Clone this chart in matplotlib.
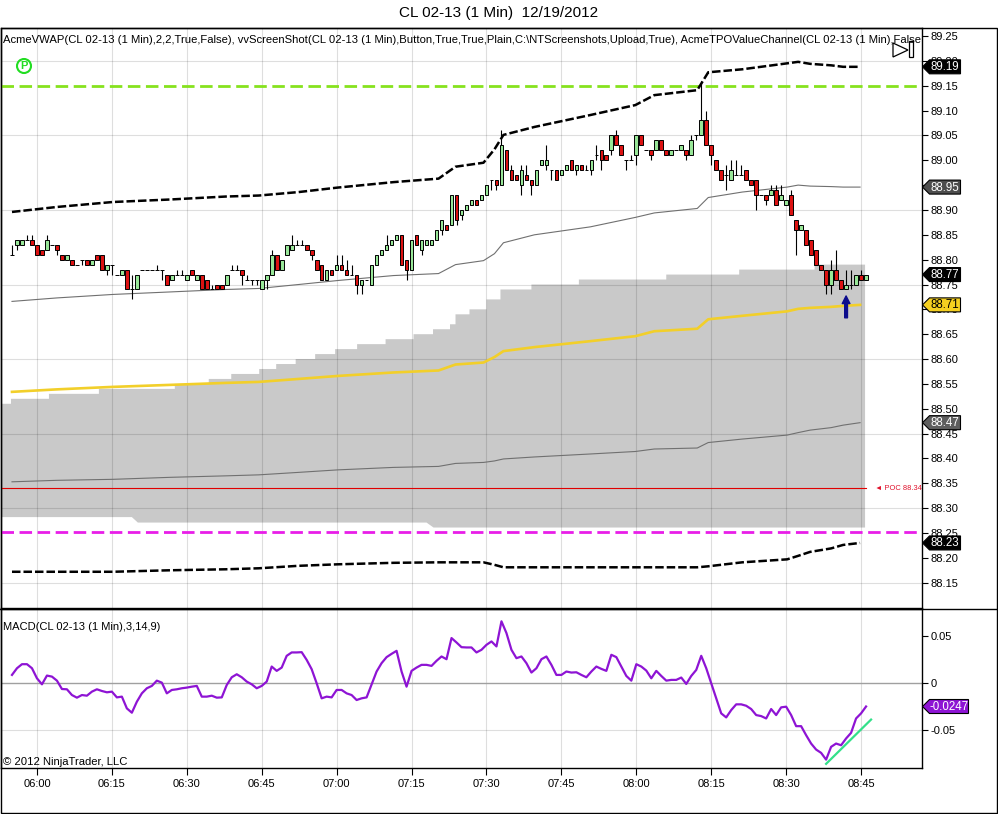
import matplotlib
matplotlib.use('Agg')
import matplotlib.pyplot as plt
from matplotlib.patches import Polygon, Rectangle, Circle
import numpy as np

plt.rcParams['font.family'] = ['Liberation Sans', 'DejaVu Sans']

# ---------------- data (minutes after 06:00) ----------------
minutes = list(range(-5, 167))
opens = [88.81, 88.83, 88.83, 88.84, 88.84, 88.83, 88.82, 88.82, 88.83, 88.83,
         88.81, 88.80, 88.80, 88.79, 88.80, 88.80, 88.79, 88.81, 88.81, 88.78,
         88.79, 88.77, 88.77, 88.78, 88.74, 88.74, 88.78, 88.78, 88.78, 88.78,
         88.78, 88.77, 88.76, 88.77, 88.77, 88.76, 88.78, 88.76, 88.77, 88.76,
         88.74, 88.75, 88.75, 88.75, 88.78, 88.78, 88.78, 88.76, 88.76, 88.76,
         88.74, 88.76, 88.77, 88.81, 88.78, 88.81, 88.82, 88.83, 88.83, 88.83,
         88.82, 88.80, 88.79, 88.76, 88.78, 88.78, 88.79, 88.78, 88.77, 88.77,
         88.75, 88.76, 88.75, 88.79, 88.81, 88.82, 88.83, 88.84, 88.85, 88.80,
         88.78, 88.85, 88.82, 88.83, 88.83, 88.84, 88.86, 88.87, 88.87, 88.93,
         88.89, 88.90, 88.91, 88.92, 88.92, 88.93, 88.96, 88.96, 88.95, 89.02,
         88.98, 88.97, 88.95, 88.97, 88.96, 88.95, 88.99, 88.99, 88.98, 88.98,
         88.97, 88.98, 89.00, 88.98, 88.99, 88.98, 88.98, 89.01, 89.02, 89.01,
         89.02, 89.05, 89.03, 89.00, 89.00, 89.01, 89.05, 89.02, 89.02, 89.02,
         89.04, 89.02, 89.01, 89.02, 89.02, 89.02, 89.01, 89.05, 89.05, 89.08,
         89.03, 89.00, 88.98, 88.97, 88.96, 88.97, 88.97, 88.98, 88.96, 88.96,
         88.93, 88.93, 88.93, 88.94, 88.92, 88.91, 88.93, 88.88, 88.86, 88.86,
         88.84, 88.82, 88.79, 88.78, 88.75, 88.78, 88.76, 88.74, 88.75, 88.75,
         88.77, 88.76]
highs = [88.83, 88.84, 88.84, 88.85, 88.85, 88.83, 88.82, 88.85, 88.83, 88.83,
         88.81, 88.81, 88.80, 88.79, 88.80, 88.80, 88.80, 88.81, 88.81, 88.79,
         88.79, 88.77, 88.78, 88.78, 88.77, 88.77, 88.78, 88.78, 88.78, 88.79,
         88.78, 88.77, 88.77, 88.78, 88.78, 88.77, 88.78, 88.77, 88.77, 88.76,
         88.75, 88.75, 88.75, 88.77, 88.79, 88.79, 88.78, 88.77, 88.76, 88.76,
         88.76, 88.77, 88.82, 88.81, 88.80, 88.83, 88.85, 88.84, 88.84, 88.83,
         88.82, 88.80, 88.79, 88.78, 88.78, 88.81, 88.81, 88.80, 88.79, 88.77,
         88.76, 88.76, 88.79, 88.81, 88.82, 88.85, 88.84, 88.85, 88.85, 88.80,
         88.84, 88.85, 88.84, 88.84, 88.84, 88.86, 88.88, 88.87, 88.93, 88.93,
         88.90, 88.91, 88.92, 88.92, 88.93, 88.95, 88.96, 88.96, 89.06, 89.02,
         88.99, 88.97, 88.99, 88.99, 88.96, 88.98, 89.00, 89.03, 88.98, 88.98,
         88.98, 88.99, 89.00, 88.99, 88.99, 88.99, 89.00, 89.03, 89.02, 89.01,
         89.05, 89.06, 89.03, 89.00, 89.01, 89.05, 89.05, 89.02, 89.02, 89.04,
         89.04, 89.02, 89.02, 89.02, 89.03, 89.02, 89.05, 89.05, 89.16, 89.10,
         89.03, 89.00, 88.98, 88.99, 89.00, 89.00, 88.99, 88.98, 88.96, 88.96,
         88.93, 88.93, 88.95, 88.95, 88.95, 88.92, 88.94, 88.88, 88.87, 88.86,
         88.84, 88.82, 88.79, 88.78, 88.80, 88.82, 88.76, 88.78, 88.78, 88.77,
         88.78, 88.77]
lows = [88.81, 88.82, 88.83, 88.84, 88.83, 88.81, 88.81, 88.82, 88.83, 88.81,
        88.80, 88.80, 88.79, 88.79, 88.79, 88.79, 88.79, 88.80, 88.78, 88.77,
        88.77, 88.77, 88.77, 88.74, 88.72, 88.74, 88.78, 88.78, 88.78, 88.78,
        88.76, 88.75, 88.76, 88.77, 88.77, 88.76, 88.77, 88.76, 88.74, 88.74,
        88.74, 88.74, 88.74, 88.75, 88.78, 88.78, 88.75, 88.76, 88.75, 88.75,
        88.74, 88.74, 88.77, 88.78, 88.78, 88.81, 88.82, 88.83, 88.83, 88.82,
        88.80, 88.78, 88.76, 88.76, 88.77, 88.78, 88.78, 88.77, 88.77, 88.73,
        88.73, 88.76, 88.75, 88.79, 88.81, 88.82, 88.83, 88.84, 88.79, 88.76,
        88.78, 88.83, 88.81, 88.83, 88.83, 88.84, 88.85, 88.86, 88.87, 88.87,
        88.88, 88.90, 88.91, 88.91, 88.92, 88.93, 88.94, 88.94, 88.95, 88.98,
        88.96, 88.96, 88.93, 88.96, 88.93, 88.95, 88.99, 88.98, 88.96, 88.96,
        88.97, 88.98, 88.98, 88.97, 88.98, 88.98, 88.97, 89.00, 88.98, 89.00,
        89.01, 89.03, 89.01, 88.98, 89.00, 88.99, 89.03, 89.02, 89.00, 89.02,
        89.02, 89.01, 89.01, 89.02, 89.02, 89.00, 89.01, 89.04, 89.05, 89.03,
        88.99, 88.98, 88.96, 88.94, 88.96, 88.97, 88.97, 88.96, 88.95, 88.90,
        88.93, 88.91, 88.93, 88.91, 88.92, 88.91, 88.89, 88.81, 88.86, 88.83,
        88.81, 88.79, 88.78, 88.73, 88.73, 88.76, 88.74, 88.74, 88.74, 88.75,
        88.76, 88.76]
closes = [88.81, 88.84, 88.84, 88.84, 88.83, 88.81, 88.81, 88.84, 88.83, 88.82,
          88.80, 88.81, 88.79, 88.79, 88.80, 88.79, 88.80, 88.80, 88.78, 88.79,
          88.79, 88.77, 88.78, 88.74, 88.74, 88.77, 88.78, 88.78, 88.78, 88.78,
          88.78, 88.75, 88.77, 88.77, 88.77, 88.77, 88.77, 88.77, 88.74, 88.74,
          88.74, 88.74, 88.74, 88.77, 88.78, 88.78, 88.77, 88.76, 88.76, 88.76,
          88.76, 88.77, 88.81, 88.78, 88.80, 88.83, 88.83, 88.83, 88.83, 88.82,
          88.81, 88.78, 88.76, 88.78, 88.77, 88.79, 88.78, 88.77, 88.77, 88.75,
          88.76, 88.76, 88.79, 88.81, 88.82, 88.83, 88.84, 88.85, 88.79, 88.78,
          88.84, 88.83, 88.84, 88.84, 88.84, 88.86, 88.88, 88.86, 88.93, 88.88,
          88.90, 88.91, 88.92, 88.91, 88.93, 88.95, 88.96, 88.95, 89.03, 88.98,
          88.96, 88.96, 88.98, 88.96, 88.95, 88.98, 89.00, 89.00, 88.98, 88.96,
          88.98, 88.99, 88.98, 88.99, 88.98, 88.98, 89.00, 89.01, 89.00, 89.00,
          89.05, 89.03, 89.01, 89.00, 89.00, 89.05, 89.03, 89.02, 89.01, 89.04,
          89.02, 89.01, 89.02, 89.02, 89.03, 89.01, 89.04, 89.05, 89.08, 89.03,
          89.01, 88.98, 88.96, 88.97, 88.98, 88.97, 88.97, 88.96, 88.95, 88.93,
          88.93, 88.92, 88.94, 88.91, 88.93, 88.92, 88.89, 88.86, 88.87, 88.83,
          88.81, 88.79, 88.78, 88.75, 88.78, 88.76, 88.74, 88.75, 88.75, 88.77,
          88.76, 88.77]

# VWAP and bands (knots in minutes)
band_min = [-5, 4, 15.2, 26.6, 37.8, 44.4, 52.4, 60.2, 71.4, 80.4, 83.8, 89.4, 91.6,
            93.4, 99.6, 110.8, 119.8, 123.6, 132.2, 134.4, 141.2, 150.2, 152.4,
            154.8, 159, 161.4, 164.8]
vwap = [88.534, 88.539, 88.544, 88.548, 88.552, 88.554, 88.560, 88.566, 88.573,
        88.577, 88.589, 88.593, 88.604, 88.616, 88.624, 88.636, 88.646, 88.656,
        88.661, 88.680, 88.687, 88.696, 88.701, 88.703, 88.705, 88.707, 88.709]
upper2 = [88.896, 88.906, 88.916, 88.921, 88.927, 88.929, 88.936, 88.945, 88.956,
          88.963, 88.987, 88.995, 89.022, 89.051, 89.067, 89.091, 89.111, 89.131,
          89.141, 89.177, 89.183, 89.195, 89.198, 89.194, 89.191, 89.188, 89.188]
lower2 = [88.172, 88.172, 88.172, 88.175, 88.177, 88.179, 88.184, 88.187, 88.190,
          88.191, 88.191, 88.191, 88.186, 88.181, 88.181, 88.181, 88.181, 88.181,
          88.181, 88.183, 88.191, 88.197, 88.204, 88.212, 88.219, 88.226, 88.230]
upper1 = [88.716, 88.723, 88.730, 88.735, 88.740, 88.742, 88.750, 88.758, 88.768,
          88.772, 88.790, 88.798, 88.812, 88.834, 88.850, 88.866, 88.885, 88.894,
          88.903, 88.925, 88.936, 88.946, 88.950, 88.948, 88.947, 88.946, 88.946]
lower1 = [88.353, 88.356, 88.358, 88.362, 88.365, 88.367, 88.372, 88.377, 88.382,
          88.384, 88.390, 88.392, 88.395, 88.399, 88.403, 88.409, 88.414, 88.419,
          88.421, 88.432, 88.439, 88.447, 88.452, 88.457, 88.462, 88.467, 88.472]

# TPO value channel
tpo_top_min = [-7.2, -5.2, 2.4, 12.4, 27.6, 34.4, 38.9, 44.5, 47.9, 51.8, 55.7, 59.7,
               64.1, 69.8, 75.4, 79.3, 82.7, 83.8, 86.6, 90, 92.8, 99, 108.5, 126,
               140.6, 155.7]
tpo_top = [88.51, 88.52, 88.53, 88.54, 88.55, 88.56, 88.57, 88.58, 88.59, 88.60,
           88.61, 88.62, 88.63, 88.64, 88.65, 88.66, 88.67, 88.69, 88.70, 88.72,
           88.74, 88.75, 88.76, 88.77, 88.78, 88.79]
tpo_end = 165.8
tpo_bot_min = [-7.2, 19.0, 20.2, 78.0, 79.4, 165.8]
tpo_bot = [88.282, 88.282, 88.271, 88.271, 88.261, 88.261]
poc = 88.34
pivot_level = 89.15
pivot_low_level = 88.253

macd = [0.0089, 0.0160, 0.0203, 0.0203, 0.0160, 0.0053, -0.0011, 0.0082, 0.0071, 0.0028,
        -0.0061, -0.0064, -0.0125, -0.0153, -0.0125, -0.0132, -0.0089, -0.0064, -0.0082, -0.0096,
        -0.0089, -0.0150, -0.0142, -0.0267, -0.0313, -0.0196, -0.0107, -0.0053, -0.0028, 0.0028,
        0.0007, -0.0107, -0.0071, -0.0064, -0.0053, -0.0046, -0.0036, -0.0028, -0.0142, -0.0142,
        -0.0132, -0.0153, -0.0150, -0.0018, 0.0064, 0.0096, 0.0064, 0.0018, -0.0011, -0.0053,
        -0.0028, 0.0018, 0.0178, 0.0132, 0.0167, 0.0292, 0.0328, 0.0328, 0.0331, 0.0249,
        0.0150, 0.0000, -0.0160, -0.0142, -0.0150, -0.0071, -0.0071, -0.0107, -0.0125, -0.0178,
        -0.0160, -0.0150, -0.0011, 0.0125, 0.0214, 0.0278, 0.0313, 0.0345, 0.0125, -0.0036,
        0.0132, 0.0167, 0.0196, 0.0196, 0.0185, 0.0239, 0.0285, 0.0256, 0.0481, 0.0434,
        0.0384, 0.0381, 0.0381, 0.0328, 0.0356, 0.0409, 0.0445, 0.0392, 0.0659, 0.0534,
        0.0356, 0.0267, 0.0285, 0.0214, 0.0114, 0.0160, 0.0256, 0.0285, 0.0196, 0.0089,
        0.0089, 0.0125, 0.0114, 0.0117, 0.0089, 0.0064, 0.0125, 0.0178, 0.0153, 0.0132,
        0.0303, 0.0278, 0.0178, 0.0078, 0.0028, 0.0203, 0.0178, 0.0135, 0.0053, 0.0132,
        0.0078, 0.0028, 0.0036, 0.0036, 0.0061, -0.0007, 0.0078, 0.0142, 0.0292, 0.0160,
        0.0000, -0.0160, -0.0320, -0.0363, -0.0285, -0.0224, -0.0224, -0.0239, -0.0274, -0.0338,
        -0.0349, -0.0374, -0.0274, -0.0338, -0.0256, -0.0249, -0.0338, -0.0456, -0.0456, -0.0552,
        -0.0641, -0.0705, -0.0740, -0.0812, -0.0676, -0.0641, -0.0659, -0.0587, -0.0527, -0.0374,
        -0.0320, -0.0247]
trend_min = [158, 167]
trend_val = [-0.0857, -0.0386]
arrow_min = 162
arrow_from, arrow_to = 88.683, 88.727

time_ticks = list(range(0, 166, 15))
time_labels = ['06:00', '06:15', '06:30', '06:45', '07:00', '07:15', '07:30',
               '07:45', '08:00', '08:15', '08:30', '08:45']
price_ticks = [round(88.15 + 0.05 * i, 2) for i in range(23)]
price_grid = [88.15, 88.30, 88.45, 88.60, 88.75, 88.90, 89.05, 89.20]
macd_ticks = [-0.05, 0.0, 0.05]
macd_labels = ['-0.05', '0', '0.05']

# ---------------- layout ----------------
W, H = 998, 814
fig = plt.figure(figsize=(W / 100, H / 100), dpi=100)
fig.patch.set_facecolor('white')

def fx(px):
    return px / W

def fy(py):
    return 1 - py / H

ax = fig.add_axes([fx(1), fy(608), fx(922) - fx(1), fy(28) - fy(608)])
mx = fig.add_axes([fx(1), fy(768), fx(922) - fx(1), fy(609) - fy(768)])

XL = (-7.2, 177.2)
ax.set_xlim(*XL)
ax.set_ylim(88.0991, 89.2661)
mx.set_xlim(*XL)
mx.set_ylim(-0.0901, 0.0790)

gridc = dict(color='black', alpha=0.13, lw=0.8, zorder=2)
for t in time_ticks:
    ax.axvline(t, **gridc)
    mx.axvline(t, **gridc)
for p in price_grid:
    ax.axhline(p, **gridc)
mx.axhline(-0.05, **gridc)
mx.axhline(0.0, color='#a0a0a0', lw=1.0, zorder=2)

# TPO gray channel
verts = []
for i, (t, v) in enumerate(zip(tpo_top_min, tpo_top)):
    if i > 0:
        verts.append((t, tpo_top[i - 1]))
    verts.append((t, v))
verts.append((tpo_end, tpo_top[-1]))
for t, v in reversed(list(zip(tpo_bot_min, tpo_bot))):
    verts.append((t, v))
ax.add_patch(Polygon(verts, closed=True, facecolor='#c9c9c9', edgecolor='none', zorder=1))

# horizontal levels
ax.axhline(pivot_level, color='#86e21e', lw=2.0, dashes=(4.5, 2.0), zorder=3)
ax.axhline(pivot_low_level, color='#e81ee8', lw=2.0, dashes=(4.5, 2.0), zorder=3)
ax.plot([-7.2, 166], [poc, poc], color='#e00000', lw=0.8, zorder=3)

# VWAP bands
ax.plot(band_min, upper2, color='black', lw=1.8, dashes=(3.4, 1.2), zorder=3)
ax.plot(band_min, lower2, color='black', lw=1.8, dashes=(3.4, 1.2), zorder=3)
ax.plot(band_min, upper1, color='#707070', lw=0.8, zorder=3)
ax.plot(band_min, lower1, color='#707070', lw=0.8, zorder=3)
ax.plot(band_min, vwap, color='#f2cf2a', lw=1.9, zorder=3)

# candles
m = np.array(minutes, dtype=float)
o = np.array(opens); h = np.array(highs); l = np.array(lows); c = np.array(closes)
up = c >= o
ax.vlines(m, l, h, color='black', lw=0.8, zorder=4)
ax.bar(m[up], (c - o)[up], bottom=o[up], width=0.74, color='#98e698',
       edgecolor='black', linewidth=0.7, zorder=5)
ax.bar(m[~up], (c - o)[~up], bottom=o[~up], width=0.74, color='#dc1212',
       edgecolor='black', linewidth=0.7, zorder=5)

ax.annotate('', xy=(arrow_min, arrow_to), xytext=(arrow_min, arrow_from),
            arrowprops=dict(arrowstyle='simple,head_length=0.55,head_width=0.55,tail_width=0.2',
                            color='#0c0c8c', mutation_scale=10, shrinkA=0, shrinkB=0), zorder=6)

# MACD
mx.plot(minutes, macd, color='#8e14d4', lw=1.6, zorder=4)
mx.plot(trend_min, trend_val, color='#33e08a', lw=1.6, zorder=5)

# axes styling
for a in (ax, mx):
    for s in a.spines.values():
        s.set_linewidth(1.0)
        s.set_color('black')
    a.yaxis.tick_right()
    a.tick_params(axis='y', direction='out', length=4, width=0.8, pad=2,
                  labelsize=8, colors='black')
ax.set_yticks(price_ticks)
ax.set_yticklabels(['%.2f' % p for p in price_ticks])
ax.set_xticks([])
mx.set_yticks(macd_ticks)
mx.set_yticklabels(macd_labels)
mx.set_xticks(time_ticks)
mx.set_xticklabels(time_labels)
mx.tick_params(axis='x', direction='out', length=5, width=0.8, pad=3, labelsize=8)

ax.text(2 / 921, 1 - 12 / 580,
        'AcmeVWAP(CL 02-13 (1 Min),2,2,True,False), vvScreenShot(CL 02-13 (1 Min),Button,'
        'True,True,Plain,C:\\NTScreenshots,Upload,True), AcmeTPOValueChannel(CL 02-13 (1 Min),'
        'False,False)', transform=ax.transAxes, fontsize=8.1, va='center', ha='left',
        clip_on=True, zorder=7)
mx.text(2 / 921, 1 - 18 / 159, 'MACD(CL 02-13 (1 Min),3,14,9)', transform=mx.transAxes,
        fontsize=8.0, va='center', ha='left')
mx.text(2 / 921, 1 - 153 / 159, '\u00a9 2012 NinjaTrader, LLC', transform=mx.transAxes,
        fontsize=8.1, va='center', ha='left')

# overlay for decorations
ov = fig.add_axes([0, 0, 1, 1], facecolor='none')
ov.set_xlim(0, W)
ov.set_ylim(H, 0)
ov.axis('off')

ov.text(W / 2, 13, 'CL 02-13 (1 Min)  12/19/2012', ha='center', va='center', fontsize=11)
ov.add_patch(Rectangle((0.5, 27.5), W - 1.5, H - 28.5, fill=False, ec='black', lw=1.0))
ov.plot([0, W], [608.5, 608.5], color='black', lw=1.0)

# POC text
py = H - ax.transData.transform((0, poc))[1]
ov.text(875, py, '\u25c4 POC 88.34', color='#e0102a', fontsize=5.4, va='center', ha='left')

# P icon
ov.add_patch(Circle((24, 66), 7, fill=False, ec='#22dd22', lw=1.5))
ov.text(24.3, 66.3, 'P', color='#22dd22', fontsize=8, fontweight='bold', ha='center', va='center')

# screenshot icon
ov.add_patch(Polygon([(893, 43), (893, 57), (908, 50)], closed=True, fill=False, ec='black', lw=0.9))
ov.add_patch(Rectangle((909, 41), 4, 16, fill=False, ec='black', lw=0.9))

def flag(axis, value, text, fc, tc, width=38):
    yy = H - axis.transData.transform((0, value))[1]
    x0 = 922.5
    pts = [(x0, yy), (x0 + 7, yy - 7), (x0 + width, yy - 7), (x0 + width, yy + 7), (x0 + 7, yy + 7)]
    ov.add_patch(Polygon(pts, closed=True, fc=fc, ec='black', lw=0.8, zorder=8))
    ov.text(x0 + 7 + (width - 7) / 2, yy + 0.5, text, color=tc, fontsize=8.3,
            ha='center', va='center', zorder=9)

flag(ax, upper2[-1], '89.19', 'black', 'white')
flag(ax, upper1[-1], '88.95', '#4d4d4d', 'white')
flag(ax, closes[-1], '88.77', 'black', 'white')
flag(ax, vwap[-1], '88.71', '#f5d020', 'black')
flag(ax, lower1[-1], '88.47', '#5e5e5e', 'white')
flag(ax, lower2[-1], '88.23', 'black', 'white')
flag(mx, macd[-1], '-0.0247', '#8e14d4', 'white', width=46)

fig.savefig('out.png', dpi=100, facecolor='white')
